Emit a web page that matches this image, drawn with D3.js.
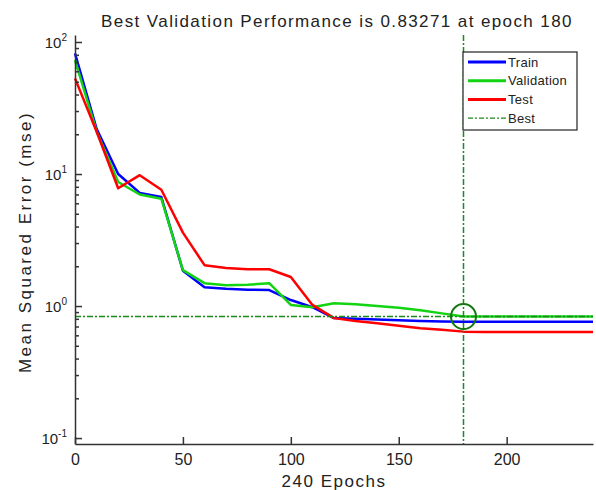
<!DOCTYPE html>
<html>
<head>
<meta charset="utf-8">
<script src="https://cdn.jsdelivr.net/npm/d3@7"></script>
<style>
body { margin: 0; background: #fff; }
text { font-family: "Liberation Sans", Arial, sans-serif; fill: #222; }
</style>
</head>
<body>
<script>
// performance values (mse, log scale)
var epochs     = [0, 10, 20, 30, 40, 50, 60, 70, 80, 90, 100, 110, 120, 130, 140, 150, 160, 170, 180, 190, 200, 210, 220, 230, 240];
var train      = [82, 22, 10, 7.2, 6.7, 1.85, 1.39, 1.35, 1.33, 1.32, 1.11, 0.98, 0.81, 0.80, 0.79, 0.78, 0.77, 0.765, 0.76, 0.76, 0.76, 0.76, 0.76, 0.76, 0.76];
var validation = [73, 21, 8.7, 7.0, 6.5, 1.87, 1.49, 1.44, 1.45, 1.49, 1.02, 0.98, 1.05, 1.03, 1.0, 0.97, 0.93, 0.88, 0.833, 0.833, 0.833, 0.833, 0.833, 0.833, 0.833];
var test       = [53, 21, 7.8, 9.8, 7.6, 3.6, 2.04, 1.94, 1.9, 1.9, 1.66, 1.02, 0.81, 0.77, 0.74, 0.71, 0.68, 0.66, 0.64, 0.635, 0.635, 0.635, 0.635, 0.635, 0.635];
var bestEpoch = 180;
var bestPerf = 0.83271;
var xTicks = [0, 50, 100, 150, 200];
var yMajor = [-1, 0, 1, 2];
var legendNames = ["Train", "Validation", "Test", "Best"];

var w = 596, h = 490;
var padLeft = 75, padRight = 593, padTop = 35, padBottom = 444;

var svg = d3.select("body").append("svg")
	.attr("width", w)
	.attr("height", h);

var xScale = d3.scaleLinear()
	.domain([0, 240])
	.range([padLeft, padRight]);

var yScale = d3.scaleLog()
	.domain([Math.pow(10, -1.045), Math.pow(10, 2.053)])
	.range([padBottom, padTop]);

// minor/major ticks on the log axis
var yTickVals = [];
for (var e = -1; e <= 2; e++) {
	for (var m = 1; m <= 9; m++) {
		var v = m * Math.pow(10, e);
		if (v <= 100.0001) yTickVals.push(v);
	}
}

var line = d3.line()
	.x(function(d){ return xScale(d[0]); })
	.y(function(d){ return yScale(d[1]); });

var series = [
	{name: "Train", values: train, color: "#0000ff"},
	{name: "Validation", values: validation, color: "#13d313"},
	{name: "Test", values: test, color: "#ff0000"}
];

series.forEach(function(s){
	svg.append("path")
		.datum(epochs.map(function(ep, i){ return [ep, s.values[i]]; }))
		.attr("d", line)
		.attr("fill", "none")
		.attr("stroke", s.color)
		.attr("stroke-width", 2.5)
		.attr("stroke-linejoin", "round");
});

// best lines
svg.append("line")
	.attr("x1", xScale(0)).attr("x2", xScale(240))
	.attr("y1", yScale(bestPerf)).attr("y2", yScale(bestPerf))
	.attr("stroke", "#1a8a1a").attr("stroke-width", 1.5)
	.attr("stroke-dasharray", "6,2,2,2");

svg.append("line")
	.attr("x1", xScale(bestEpoch)).attr("x2", xScale(bestEpoch))
	.attr("y1", padTop).attr("y2", padBottom)
	.attr("stroke", "#1a8a1a").attr("stroke-width", 1.5)
	.attr("stroke-dasharray", "6,2,2,2");

svg.append("circle")
	.attr("cx", xScale(bestEpoch))
	.attr("cy", yScale(bestPerf))
	.attr("r", 12.5)
	.attr("fill", "none")
	.attr("stroke", "#107a10")
	.attr("stroke-width", 2);

// axes
var xAxis = d3.axisBottom(xScale)
	.tickValues(xTicks)
	.tickSizeInner(-7)
	.tickSizeOuter(0)
	.tickFormat(d3.format("d"))
	.tickPadding(10);

var gx = svg.append("g")
	.attr("transform", "translate(0," + padBottom + ")")
	.call(xAxis);
gx.select(".domain").attr("stroke", "#333").attr("stroke-width", 1.5);
gx.selectAll(".tick line").attr("stroke", "#333").attr("stroke-width", 1.5);
gx.selectAll(".tick text")
	.attr("font-size", 16)
	.attr("font-family", "Liberation Sans, Arial, sans-serif")
	.attr("fill", "#222");

var yAxis = d3.axisLeft(yScale)
	.tickValues(yTickVals)
	.tickSize(0)
	.tickSizeOuter(0)
	.tickFormat("");

var gy = svg.append("g")
	.attr("transform", "translate(" + padLeft + ",0)")
	.call(yAxis);
gy.select(".domain").attr("stroke", "#333").attr("stroke-width", 1.5);
gy.selectAll(".tick line")
	.attr("x2", function(d){
		var lg = Math.log10(d);
		return Math.abs(lg - Math.round(lg)) < 1e-6 ? 7 : 4;
	})
	.attr("stroke", "#333")
	.attr("stroke-width", 1.5);

// y tick labels: 10 with superscript exponent
yMajor.forEach(function(p){
	var t = svg.append("text")
		.attr("x", padLeft - 8)
		.attr("y", yScale(Math.pow(10, p)) + 6)
		.attr("text-anchor", "end")
		.attr("font-size", 15);
	t.append("tspan").text("10");
	t.append("tspan")
		.attr("dy", -7)
		.attr("font-size", 10)
		.text(String(p));
});

// title and axis labels
svg.append("text")
	.attr("x", 337)
	.attr("y", 27)
	.attr("text-anchor", "middle")
	.attr("font-size", 17)
	.attr("letter-spacing", 1.4)
	.text("Best Validation Performance is " + bestPerf + " at epoch " + bestEpoch);

svg.append("text")
	.attr("x", (padLeft + padRight) / 2)
	.attr("y", 487)
	.attr("text-anchor", "middle")
	.attr("font-size", 17)
	.attr("letter-spacing", 1.5)
	.text("240 Epochs");

svg.append("text")
	.attr("transform", "translate(31,242) rotate(-90)")
	.attr("text-anchor", "middle")
	.attr("font-size", 17)
	.attr("letter-spacing", 2.5)
	.text("Mean Squared Error (mse)");

// legend
var lg = svg.append("g").attr("transform", "translate(463,52)");
lg.append("rect")
	.attr("width", 114).attr("height", 78)
	.attr("fill", "#fff")
	.attr("stroke", "#222").attr("stroke-width", 1.2);

var legendColors = ["#0000ff", "#13d313", "#ff0000", "#1a8a1a"];
legendNames.forEach(function(name, i){
	var yy = 10 + i * 18.7;
	lg.append("line")
		.attr("x1", 5).attr("x2", 43)
		.attr("y1", yy).attr("y2", yy)
		.attr("stroke", legendColors[i])
		.attr("stroke-width", i < 3 ? 3 : 1.3)
		.attr("stroke-dasharray", i < 3 ? null : "5,2,2,2");
	lg.append("text")
		.attr("x", 45)
		.attr("y", yy + 4.5)
		.attr("font-size", 13)
		.attr("letter-spacing", 0.3)
		.text(name);
});
</script>
</body>
</html>
